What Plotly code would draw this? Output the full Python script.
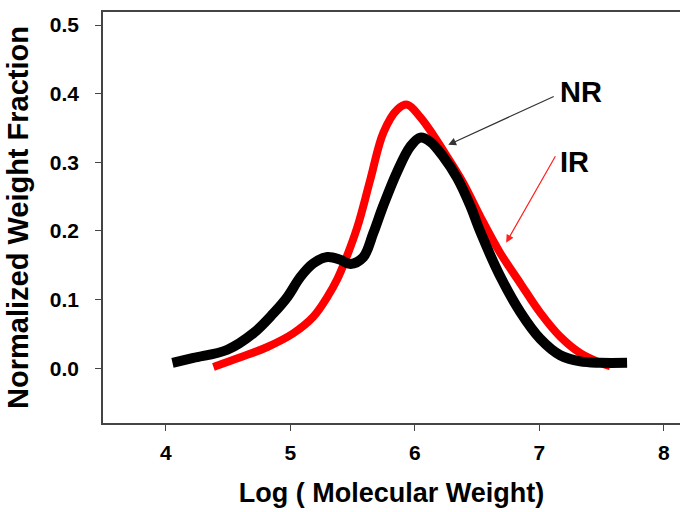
import plotly.graph_objects as go

# NR (black) curve
nr_x = [4.054, 4.222, 4.495, 4.703, 4.864, 4.977, 5.081, 5.186, 5.298, 5.402, 5.483,
        5.587, 5.667, 5.747, 5.860, 5.964, 6.044, 6.124, 6.229, 6.341, 6.445, 6.526,
        6.686, 6.847, 7.007, 7.168, 7.329, 7.489, 7.705]
nr_y = [0.008, 0.015, 0.027, 0.051, 0.080, 0.104, 0.133, 0.153, 0.162, 0.158, 0.152,
        0.162, 0.197, 0.237, 0.287, 0.323, 0.336, 0.330, 0.308, 0.277, 0.237, 0.199,
        0.134, 0.082, 0.043, 0.019, 0.010, 0.008, 0.008]

# IR (red) curve
ir_x = [4.383, 4.600, 4.816, 5.025, 5.185, 5.298, 5.378, 5.426, 5.539, 5.643, 5.747,
        5.860, 5.940, 6.044, 6.148, 6.261, 6.389, 6.526, 6.686, 6.847, 7.007, 7.168,
        7.329, 7.489, 7.570]
ir_y = [0.002, 0.016, 0.031, 0.051, 0.075, 0.104, 0.130, 0.150, 0.206, 0.275, 0.343,
        0.377, 0.384, 0.366, 0.340, 0.308, 0.270, 0.221, 0.168, 0.124, 0.081, 0.046,
        0.022, 0.008, 0.003]

x_ticks = [4, 5, 6, 7, 8]
y_ticks = [0.0, 0.1, 0.2, 0.3, 0.4, 0.5]

FONT = "Liberation Sans, Arial, sans-serif"

fig = go.Figure()
fig.add_trace(go.Scatter(x=ir_x, y=ir_y, mode="lines", name="IR",
                         line=dict(color="#ff0000", width=8, shape="spline", smoothing=1.0)))
fig.add_trace(go.Scatter(x=nr_x, y=nr_y, mode="lines", name="NR",
                         line=dict(color="#000000", width=10, shape="spline", smoothing=1.0)))

# labels
fig.add_annotation(x=7.152, y=0.402, text="<b>NR</b>", showarrow=False, xanchor="left",
                   yanchor="middle", font=dict(family=FONT, size=29, color="black"))
fig.add_annotation(x=7.152, y=0.301, text="<b>IR</b>", showarrow=False, xanchor="left",
                   yanchor="middle", font=dict(family=FONT, size=29, color="black"))
# arrows
fig.add_annotation(x=6.269, y=0.3255, ax=7.128, ay=0.397, axref="x", ayref="y", text="",
                   showarrow=True, arrowhead=2, arrowsize=1.3, arrowwidth=1.2, arrowcolor="#333333")
fig.add_annotation(x=6.734, y=0.183, ax=7.136, ay=0.311, axref="x", ayref="y", text="",
                   showarrow=True, arrowhead=2, arrowsize=1.3, arrowwidth=1.2, arrowcolor="#ff2020")

fig.update_layout(
    width=680, height=512,
    margin=dict(l=103, r=0, t=12, b=89),
    paper_bgcolor="white", plot_bgcolor="white",
    showlegend=False,
    font=dict(family=FONT, color="black"),
)
fig.update_xaxes(
    range=[3.496, 8.13], tickvals=x_ticks, ticktext=[f"<b>{v}</b>" for v in x_ticks],
    showgrid=False, zeroline=False, showline=True, mirror=True, linecolor="#444444", linewidth=1.5,
    ticks="outside", ticklen=6, tickcolor="#444444", tickwidth=1.2,
    tickfont=dict(family=FONT, size=21, color="black"),
    ticklabelstandoff=4,
    title=dict(text="<b>Log ( Molecular Weight)</b>", font=dict(family=FONT, size=27, color="black"), standoff=20),
)
fig.update_yaxes(
    range=[-0.0797, 0.519], tickvals=y_ticks, ticktext=[f"<b>{v:.1f}</b>" for v in y_ticks],
    showgrid=False, zeroline=False, showline=True, mirror=False, linecolor="#444444", linewidth=1.5,
    ticks="outside", ticklen=6, tickcolor="#444444", tickwidth=1.2,
    tickfont=dict(family=FONT, size=21, color="black"),
    ticklabelstandoff=12,
    title=dict(text="<b>Normalized Weight Fraction</b>", font=dict(family=FONT, size=29, color="black"), standoff=13),
)

fig.write_html("out.html")
